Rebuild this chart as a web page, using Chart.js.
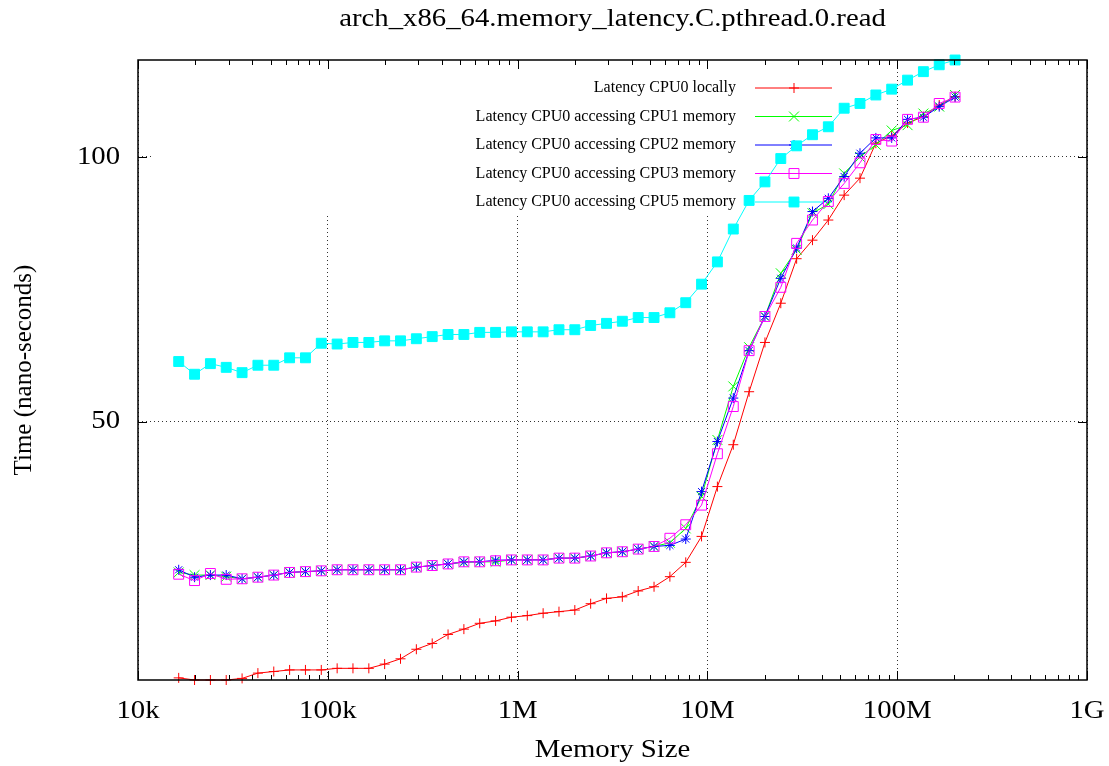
<!DOCTYPE html>
<html>
<head>
<meta charset="utf-8">
<title>arch_x86_64.memory_latency.C.pthread.0.read</title>
<script src="https://cdn.jsdelivr.net/npm/chart.js@4/dist/chart.umd.min.js"></script>
<style>
  html, body { margin: 0; padding: 0; background: #fff; }
</style>
</head>
<body>
<canvas id="latency" width="1109" height="766"></canvas>
<script>
// ********************* data ***********************
const sizes = [
    16384, 19860, 24070, 29160, 35350, 42830, 51920, 62920, 76240, 92400,
    112000, 135700, 164500, 199300, 241600, 292800, 354900, 430100, 521200, 631600,
    765600, 927900, 1125000, 1363000, 1652000, 2002000, 2426000, 2941000, 3563000, 4319000,
    5234000, 6344000, 7689000, 9316000, 11290000, 13690000, 16590000, 20100000, 24360000, 29520000,
    35780000, 43370000, 52550000, 63680000, 77180000, 93540000, 113400000, 137400000, 166500000, 201800000,
];

const cpu0Local = [
    1.7, 1.3, 1.3, 1.3, 1.6, 2.6, 2.9, 3.2, 3.2, 3.2,
    3.5, 3.5, 3.5, 4.3, 5.3, 7.1, 8.2, 9.9, 10.9, 12.0,
    12.45, 13.15, 13.45, 13.9, 14.2, 14.5, 15.7, 16.7, 17.0, 18.1,
    18.9, 20.8, 23.5, 28.4, 37.8, 45.7, 55.7, 65.0, 72.4, 80.8,
    84.3, 88.1, 92.8, 96.0, 102.6, 104.0, 106.4, 107.6, 109.8, 111.4,
];

const cpu1Mem = [
    21.6, 21.1, 21.1, 20.8, 20.4, 20.7, 21.1, 21.6, 21.75, 21.9,
    22.1, 22.1, 22.1, 22.1, 22.1, 22.6, 22.9, 23.2, 23.5, 23.6,
    23.6, 23.96, 24.0, 24.0, 24.3, 24.3, 24.7, 25.3, 25.5, 26.0,
    26.5, 27.2, 29.9, 35.9, 46.6, 56.7, 64.1, 69.9, 78.05, 82.5,
    89.4, 91.1, 96.9, 100.0, 102.3, 105.0, 106.0, 108.2, 109.5, 111.7,
];

const cpu2Mem = [
    22.1, 20.7, 21.1, 21.1, 20.4, 20.7, 21.1, 21.6, 21.75, 21.9,
    22.1, 22.1, 22.1, 22.1, 22.1, 22.6, 22.9, 23.2, 23.6, 23.6,
    23.9, 23.96, 23.96, 23.96, 24.3, 24.3, 24.7, 25.3, 25.5, 26.0,
    26.5, 26.7, 27.9, 36.85, 46.3, 54.5, 63.45, 69.9, 77.1, 82.8,
    89.7, 92.2, 96.3, 100.7, 103.6, 103.6, 107.1, 107.5, 109.5, 111.3,
];

const cpu3Mem = [
    21.26, 20.06, 21.4, 20.3, 20.4, 20.7, 21.1, 21.6, 21.75, 21.9,
    22.1, 22.1, 22.1, 22.1, 22.1, 22.6, 22.9, 23.2, 23.6, 23.6,
    23.8, 23.96, 23.96, 23.96, 24.3, 24.3, 24.7, 25.3, 25.5, 26.0,
    26.5, 28.05, 30.6, 34.3, 44.0, 52.9, 63.45, 69.9, 75.4, 83.7,
    88.1, 91.6, 95.0, 98.9, 103.3, 103.0, 107.1, 107.5, 110.1, 111.3,
];

const cpu5Mem = [
    61.4, 59.0, 61.0, 60.3, 59.3, 60.7, 60.7, 62.1, 62.1, 64.85,
    64.7, 65.0, 65.0, 65.3, 65.3, 65.7, 66.1, 66.5, 66.5, 66.9,
    66.9, 67.0, 67.0, 67.0, 67.4, 67.4, 68.2, 68.6, 69.0, 69.7,
    69.7, 70.6, 72.5, 76.0, 80.2, 86.4, 91.8, 95.3, 99.7, 102.1,
    104.2, 105.7, 109.2, 110.1, 111.7, 112.8, 114.5, 116.1, 117.4, 118.3,
];

const xTickValues = [1e4, 1e5, 1e6, 1e7, 1e8, 1e9];
const xTickLabels = ['10k', '100k', '1M', '10M', '100M', '1G'];
const yTickValues = [50, 100];

// ********************* helpers ***********************
const FONT = '"Liberation Serif", "DejaVu Serif", serif';
const STRETCH = 1.15;   // gnuplot's horizontal text is a bit wider
const isMajor = (v) => xTickValues.some(t => Math.abs(t - v) / t < 1e-6);
const pts = (values) => sizes.map((s, i) => ({ x: s, y: values[i] }));

function series(label, values, color, style, radius, fill, order) {
    return {
        label: label,
        data: pts(values),
        borderColor: color,
        backgroundColor: color,
        pointBorderColor: color,
        pointBackgroundColor: fill,
        pointStyle: style,
        pointRadius: radius,
        pointBorderWidth: 1,
        borderWidth: 1,
        tension: 0,
        clip: false,
        order: order,
    };
}

function wideText(ctx, text, x, y, align) {
    ctx.save();
    ctx.translate(x, y);
    ctx.scale(STRETCH, 1);
    ctx.textAlign = align;
    ctx.fillText(text, 0, 0);
    ctx.restore();
}

// gnuplot-like frame, inward ticks, opaque key and titles
const gnuplotFrame = {
    id: 'gnuplotFrame',
    beforeDatasetsDraw(chart) {
        const ctx = chart.ctx;
        const a = chart.chartArea;
        ctx.save();
        ctx.fillStyle = '#fff';
        ctx.fillRect(151, a.top + 1, 700, 152);

        ctx.font = '16px ' + FONT;
        ctx.textAlign = 'right';
        ctx.textBaseline = 'middle';
        chart.data.datasets.forEach((ds, i) => {
            const y = 88 + i * 28.5;
            ctx.fillStyle = '#000';
            ctx.fillText(ds.label, 736, y);
            ctx.strokeStyle = ds.borderColor;
            ctx.lineWidth = 1;
            ctx.beginPath();
            ctx.moveTo(755, y);
            ctx.lineTo(832, y);
            ctx.stroke();
            ctx.fillStyle = ds.pointBackgroundColor;
            Chart.helpers.drawPoint(ctx, {
                pointStyle: ds.pointStyle,
                radius: ds.pointRadius,
                rotation: 0,
                borderWidth: 1,
            }, 794, y);
        });
        ctx.restore();
    },
    afterDraw(chart) {
        const ctx = chart.ctx;
        const a = chart.chartArea;
        const xs = chart.scales.x;
        const ys = chart.scales.y;
        ctx.save();
        ctx.strokeStyle = '#000';
        ctx.lineWidth = 1;
        ctx.beginPath();
        xs.ticks.forEach(t => {
            const px = Math.round(xs.getPixelForValue(t.value)) + 0.5;
            const len = isMajor(t.value) ? 9 : 5;
            ctx.moveTo(px, a.bottom);
            ctx.lineTo(px, a.bottom - len);
            ctx.moveTo(px, a.top);
            ctx.lineTo(px, a.top + len);
        });
        ys.ticks.forEach(t => {
            const py = Math.round(ys.getPixelForValue(t.value)) + 0.5;
            ctx.moveTo(a.left, py);
            ctx.lineTo(a.left + 9, py);
            ctx.moveTo(a.right, py);
            ctx.lineTo(a.right - 9, py);
        });
        ctx.stroke();

        ctx.lineWidth = 1.5;
        ctx.strokeRect(a.left, a.top, a.right - a.left, a.bottom - a.top);

        // tick labels
        ctx.fillStyle = '#000';
        ctx.font = '25px ' + FONT;
        ctx.textBaseline = 'middle';
        xs.ticks.forEach(t => {
            const i = xTickValues.findIndex(v => Math.abs(v - t.value) / v < 1e-6);
            if (i >= 0) wideText(ctx, xTickLabels[i], xs.getPixelForValue(t.value), 711, 'center');
        });
        ys.ticks.forEach(t => {
            wideText(ctx, String(t.value), 120, ys.getPixelForValue(t.value), 'right');
        });

        // titles
        const cx = (a.left + a.right) / 2;
        wideText(ctx, 'arch_x86_64.memory_latency.C.pthread.0.read', cx, 19, 'center');
        wideText(ctx, 'Memory Size', cx, 750, 'center');
        ctx.translate(24, (a.top + a.bottom) / 2);
        ctx.rotate(-Math.PI / 2);
        ctx.textAlign = 'center';
        ctx.fillText('Time (nano-seconds)', 0, 0);
        ctx.restore();
    },
};

// ********************* chart ***********************
const latencyData = {
    datasets: [
        series('Latency CPU0 locally', cpu0Local, '#ff0000', 'cross', 5, '#ff0000', 5),
        series('Latency CPU0 accessing CPU1 memory', cpu1Mem, '#00ff00', 'crossRot', 7, '#00ff00', 4),
        series('Latency CPU0 accessing CPU2 memory', cpu2Mem, '#0000ff', 'star', 5, '#0000ff', 3),
        series('Latency CPU0 accessing CPU3 memory', cpu3Mem, '#ff00ff', 'rect', 7, 'rgba(0,0,0,0)', 2),
        series('Latency CPU0 accessing CPU5 memory', cpu5Mem, '#00ffff', 'rect', 7, '#00ffff', 1),
    ]
};

const latencyConfig = {
    type: 'line',
    data: latencyData,
    options: {
        responsive: false,
        animation: false,
        devicePixelRatio: 1,
        layout: { padding: { top: 60, right: 22, left: 0, bottom: 0 } },
        plugins: {
            legend: { display: false },
            title: { display: false },
            tooltip: { enabled: false },
        },
        scales: {
            x: {
                type: 'logarithmic',
                min: 1e4,
                max: 1e9,
                afterBuildTicks(scale) {
                    const ticks = [];
                    xTickValues.forEach((d, i) => {
                        ticks.push({ value: d });
                        if (i < xTickValues.length - 1) {
                            for (let m = 2; m <= 9; m++) ticks.push({ value: d * m });
                        }
                    });
                    scale.ticks = ticks;
                },
                afterFit(scale) {
                    scale.height = 86;
                    scale.paddingLeft = 0;
                    scale.paddingRight = 0;
                },
                ticks: { display: false, autoSkip: false, maxRotation: 0 },
                grid: {
                    drawTicks: false,
                    lineWidth: 1,
                    color: (c) => (c.tick && isMajor(c.tick.value)) ? '#333' : 'rgba(0,0,0,0)',
                },
                border: { display: false, dash: [1, 3] },
            },
            y: {
                type: 'linear',
                min: 1.3,
                max: 118.3,
                afterBuildTicks(scale) {
                    scale.ticks = yTickValues.map(v => ({ value: v }));
                },
                afterFit(scale) { scale.width = 138; },
                ticks: { display: false },
                grid: {
                    drawTicks: false,
                    lineWidth: 1,
                    color: '#333',
                },
                border: { display: false, dash: [1, 3] },
            },
        },
    },
    plugins: [gnuplotFrame],
};

const latency = new Chart(
    document.getElementById('latency'),
    latencyConfig
);
</script>
</body>
</html>
